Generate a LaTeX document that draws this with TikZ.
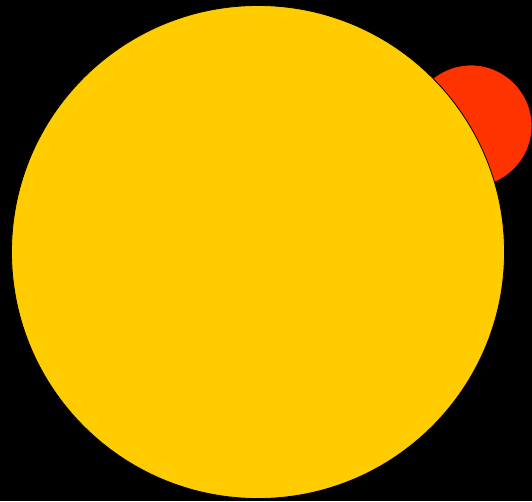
\documentclass[tikz,border=0pt]{standalone}
\usepackage{xcolor}
\definecolor{sunyellow}{HTML}{FFCC00}
\definecolor{dotred}{HTML}{FF3300}
\begin{document}
\begin{tikzpicture}[x=1pt,y=-1pt,every node/.style={circle,inner sep=0pt,draw=black,line width=0.8pt}]
\fill[black] (0,0) rectangle (532,501);
\useasboundingbox (0,0) rectangle (532,501);
\node[fill=dotred,minimum size=122pt] (small) at (471,126) {};
\node[fill=sunyellow,minimum size=493pt] (big) at (258,252) {};
\end{tikzpicture}
\end{document}
